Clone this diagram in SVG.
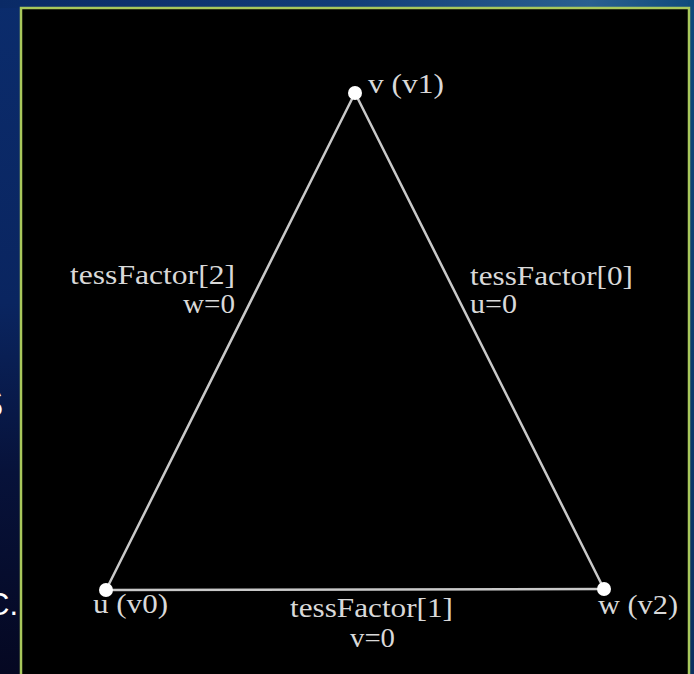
<svg xmlns="http://www.w3.org/2000/svg" width="694" height="674" viewBox="0 0 694 674">
  <defs>
    <linearGradient id="leftBg" x1="0" y1="0" x2="0" y2="1">
      <stop offset="0" stop-color="#0b2c6c"/>
      <stop offset="0.45" stop-color="#0a2560"/>
      <stop offset="0.7" stop-color="#07123a"/>
      <stop offset="1" stop-color="#050822"/>
    </linearGradient>
    <linearGradient id="topBg" x1="0" y1="0" x2="1" y2="0">
      <stop offset="0" stop-color="#0a2a66"/>
      <stop offset="0.5" stop-color="#123d78"/>
      <stop offset="0.85" stop-color="#2a6090"/>
      <stop offset="1" stop-color="#0f4a7c"/>
    </linearGradient>
    <linearGradient id="rightBg" x1="0" y1="0" x2="0" y2="1">
      <stop offset="0" stop-color="#0f4a7c"/>
      <stop offset="1" stop-color="#0a3060"/>
    </linearGradient>
  </defs>
  <style>
    .edge { stroke: #c9c9c9; stroke-width: 2.5; fill: none; stroke-linecap: round; }
    .vert { fill: #ffffff; }
    .lbl { font-family: "Liberation Serif", "Times New Roman", serif; font-size: 27px; fill: #d9d9d9; }
    .bg { font-family: "Liberation Sans", Arial, sans-serif; fill: #ffffff; }
  </style>

  <!-- background -->
  <rect x="0" y="0" width="694" height="674" fill="url(#leftBg)"/>
  <rect x="0" y="0" width="694" height="8" fill="url(#topBg)"/>
  <rect x="688" y="0" width="6" height="674" fill="url(#rightBg)"/>
  <text class="bg" x="-22" y="417" font-size="38">S</text>
  <text class="bg" x="-13" y="615" font-size="31">C.</text>

  <!-- frame -->
  <rect x="21" y="8" width="668" height="670" fill="#000000" stroke="#a8c85c" stroke-width="2.5"/>

  <!-- connectors -->
  <g id="connectors">
    <line class="edge" x1="106" y1="590" x2="355" y2="93"/>
    <line class="edge" x1="355" y1="93" x2="604" y2="589"/>
    <line class="edge" x1="106" y1="590" x2="604" y2="589"/>
    <g id="edge-label-2">
      <text class="lbl" x="70" y="284" textLength="165" lengthAdjust="spacingAndGlyphs">tessFactor[2]</text>
      <text class="lbl" x="183" y="313" textLength="52" lengthAdjust="spacingAndGlyphs">w=0</text>
    </g>
    <g id="edge-label-0">
      <text class="lbl" x="470" y="285" textLength="163" lengthAdjust="spacingAndGlyphs">tessFactor[0]</text>
      <text class="lbl" x="470" y="313" textLength="47" lengthAdjust="spacingAndGlyphs">u=0</text>
    </g>
    <g id="edge-label-1">
      <text class="lbl" x="290" y="617" textLength="163" lengthAdjust="spacingAndGlyphs">tessFactor[1]</text>
      <text class="lbl" x="350" y="647" textLength="45" lengthAdjust="spacingAndGlyphs">v=0</text>
    </g>
  </g>

  <!-- nodes -->
  <g id="node-v1">
    <circle class="vert" cx="355" cy="93" r="7"/>
    <text class="lbl" x="368" y="93" textLength="76" lengthAdjust="spacingAndGlyphs">v (v1)</text>
  </g>
  <g id="node-v0">
    <circle class="vert" cx="106" cy="590" r="7"/>
    <text class="lbl" x="93" y="613" textLength="75" lengthAdjust="spacingAndGlyphs">u (v0)</text>
  </g>
  <g id="node-v2">
    <circle class="vert" cx="604" cy="589" r="7"/>
    <text class="lbl" x="598" y="614" textLength="80" lengthAdjust="spacingAndGlyphs">w (v2)</text>
  </g>
</svg>
